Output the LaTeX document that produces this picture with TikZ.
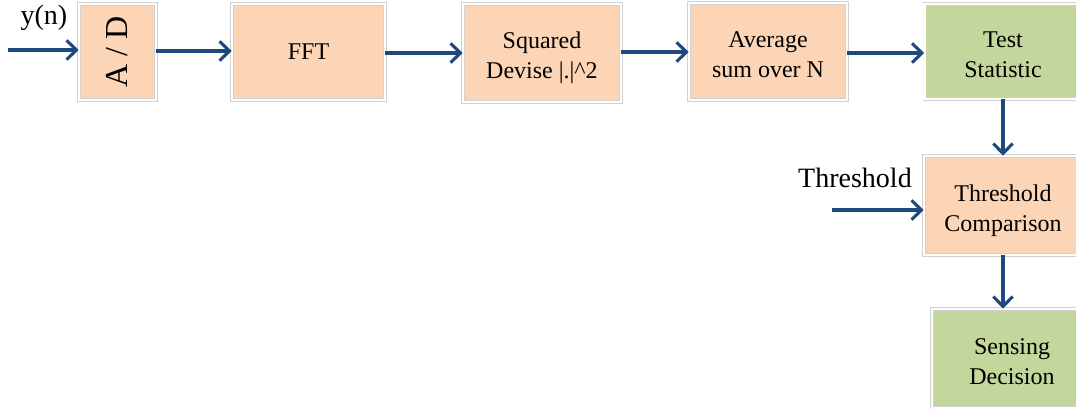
\documentclass[tikz,border=0pt]{standalone}
\usepackage{fontspec}
\setmainfont{Liberation Serif}
\usetikzlibrary{arrows.meta}
\definecolor{peach}{RGB}{251,213,181}
\definecolor{sage}{RGB}{195,214,155}
\definecolor{arr}{RGB}{31,73,125}
\newcommand{\twoline}[2]{\begin{tabular}{@{}c@{}}\rule{0pt}{23pt}#1\\#2\end{tabular}}
\begin{document}
\begin{tikzpicture}[x=0.75pt,y=-0.75pt,
  blk/.style={draw=black!18, double=white, double distance=1.6pt, line width=0.4pt,
    inner sep=0pt, align=center, font=\fontsize{18}{22.5}\selectfont},
  pk/.style={blk, fill=peach},
  gn/.style={blk, fill=sage},
  flow/.style={draw=arr, line width=2.3pt, -{Straight Barb[length=7.5pt,width=14.5pt,line width=2.3pt]}},
  lbl/.style={font=\fontsize{21}{24}\selectfont, inner sep=0pt}]
\useasboundingbox (0,0) rectangle (1076,409);
\node[pk, minimum width=77*0.75pt, minimum height=96*0.75pt] (ad) at (117.5,52)
  {\rotatebox{90}{\fontsize{24}{26}\selectfont A / D}};
\node[pk, minimum width=153*0.75pt, minimum height=96*0.75pt] (fft) at (308.5,52) {FFT};
\node[pk, minimum width=158*0.75pt, minimum height=98*0.75pt] (sq) at (542,53) {\twoline{Squared}{Devise |.|\^{}2}};
\node[pk, minimum width=158*0.75pt, minimum height=97*0.75pt] (avg) at (768,51.5) {\twoline{Average}{sum over N}};
\node[gn, minimum width=157*0.75pt, minimum height=95*0.75pt] (ts) at (1003,51.5) {\twoline{Test}{Statistic}};
\node[pk, minimum width=158*0.75pt, minimum height=99*0.75pt] (tc) at (1003,205.5) {\twoline{Threshold}{Comparison}};
\node[gn, minimum width=160*0.75pt, minimum height=99*0.75pt] (sd) at (1012,358.5) {\twoline{Sensing}{Decision}};
\node[lbl] (yn) at (44,18) {y(n)};
\node[lbl] (th) at (855,178) {Threshold};
\coordinate (yin) at (8,50);
\coordinate (thin) at (832,210);
\draw[flow] (yin) -- (yin -| ad.west);
\draw[flow] (ad.east |- 0,51) -- (fft.west |- 0,51);
\draw[flow] (fft.east |- 0,53) -- (sq.west |- 0,53);
\draw[flow] (sq.east |- 0,52) -- (avg.west |- 0,52);
\draw[flow] (avg.east |- 0,53) -- (ts.west |- 0,53);
\draw[flow] (ts.south) -- (tc.north);
\draw[flow] (tc.south) -- (tc.south |- sd.north);
\draw[flow] (thin) -- (thin -| tc.west);
\end{tikzpicture}
\end{document}
